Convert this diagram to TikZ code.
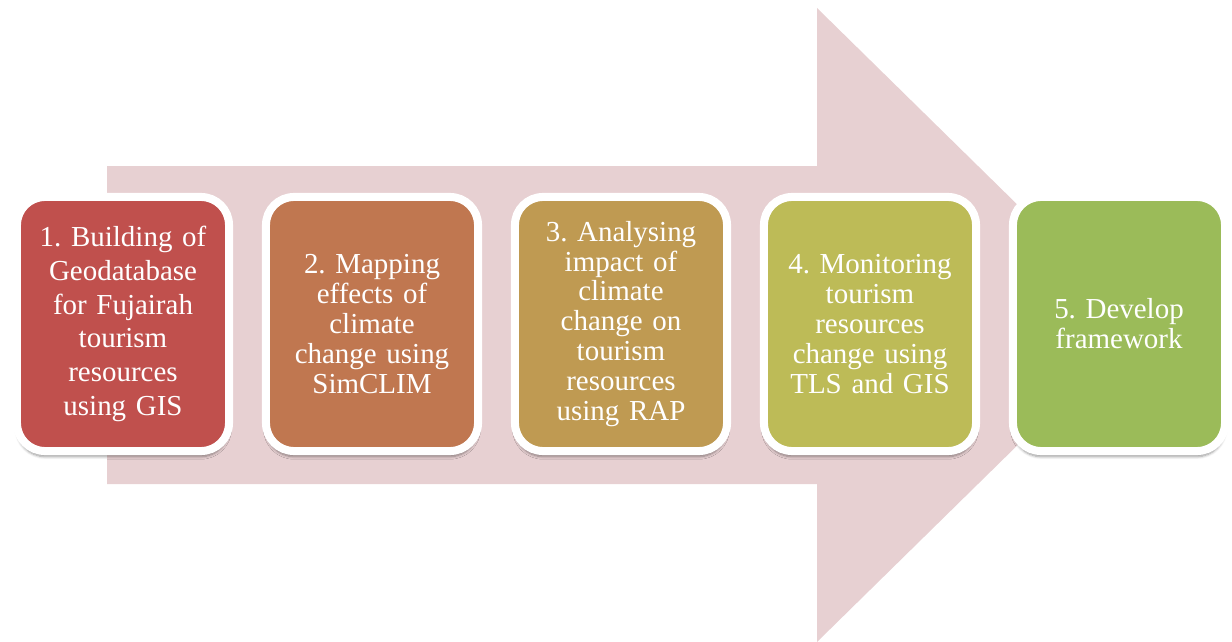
\documentclass[tikz,border=0pt]{standalone}
\usepackage{fontspec}
\setmainfont{Liberation Serif}
\usetikzlibrary{calc,shadows.blur}
\frenchspacing

\definecolor{arrowpink}{HTML}{E7D0D2}
\definecolor{stepred}{HTML}{C0504D}
\definecolor{steporange}{HTML}{C07750}
\definecolor{stepgold}{HTML}{BF9A52}
\definecolor{stepolive}{HTML}{BDBB57}
\definecolor{stepgreen}{HTML}{9BBB59}

\begin{document}
\begin{tikzpicture}[x=0.025cm, y=0.025cm,
    stepbox/.style={draw=white, line width=0.2cm, rounded corners=0.7cm,
        minimum width=5.3cm, minimum height=6.35cm, text width=4.9cm,
        align=center, text=white, font=\fontsize{20.6}{21.3}\selectfont,
        blur shadow={shadow xshift=0pt, shadow yshift=-4pt,
            shadow blur steps=6, shadow opacity=40}}]
    \useasboundingbox (0,0) rectangle (1232,641);
    \pgfmathsetmacro{\gap}{249}  % distance between the steps
    \coordinate (first) at (123,317);
    % the big arrow behind the steps
    \fill[arrowpink] (107,157) -- (817,157) -- (817,-1) -- (1140,316)
        -- (817,633) -- (817,475) -- (107,475) -- cycle;
    % the five steps
    \node[stepbox, fill=stepred, font=\fontsize{20.6}{24}\selectfont] (geodb) at (first)
        {1. Building of\\ Geodatabase\\ for Fujairah\\ tourism\\ resources\\ using GIS};
    \node[stepbox, fill=steporange] (mapping) at ($(first)+(\gap,0)$)
        {2. Mapping\\ effects of\\ climate\\ change using\\ SimCLIM};
    \node[stepbox, fill=stepgold] (impact) at ($(first)+(2*\gap,0)$)
        {3. Analysing\\ impact of\\ climate\\ change on\\ tourism\\ resources\\ using RAP};
    \node[stepbox, fill=stepolive] (monitor) at ($(first)+(3*\gap,0)$)
        {4. Monitoring\\ tourism\\ resources\\ change using\\ TLS and GIS};
    \node[stepbox, fill=stepgreen] (frame) at ($(first)+(4*\gap,0)$)
        {5. Develop\\ framework};
\end{tikzpicture}
\end{document}
